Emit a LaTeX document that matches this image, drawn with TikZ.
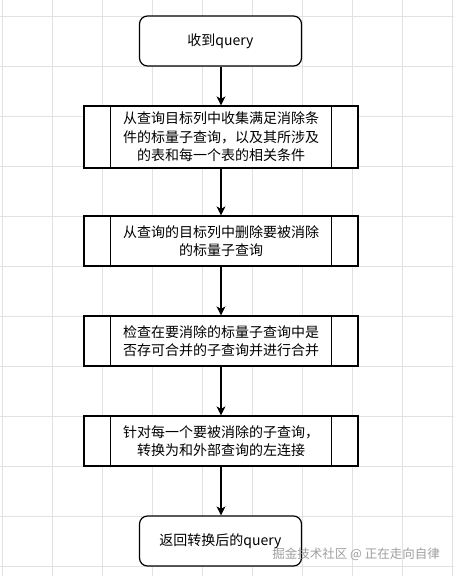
\documentclass[tikz,border=0pt]{standalone}
\usepackage{fontspec}
\newfontfamily\cjk{Noto Sans CJK SC}
\usetikzlibrary{arrows.meta}
\definecolor{gridc}{HTML}{E2E2E2}
\tikzset{
  term/.style={draw=black, line width=1.2pt, rounded corners=8pt, fill=white,
    minimum width=162pt, minimum height=50pt, font=\cjk\fontsize{14}{18}\selectfont, align=center, inner sep=0pt},
  proc/.style={draw=black, line width=1.2pt, fill=white,
    minimum width=274pt, font=\cjk\fontsize{14}{18.5}\selectfont, align=center, inner sep=0pt},
  flow/.style={line width=1.2pt, -{Stealth[length=9pt,width=9pt,inset=2.5pt]}},
}
\begin{document}
\begin{tikzpicture}[x=1pt,y=-1pt]
\useasboundingbox (0,0) rectangle (454,576);
\fill[white] (0,0) rectangle (454,576);
\foreach \gx in {2,52,...,452} \draw[gridc, line width=0.8pt] (\gx,0) -- (\gx,576);
\foreach \gy in {16,66,...,566} \draw[gridc, line width=0.8pt] (0,\gy) -- (454,\gy);

\node[term] (n1) at (220.5,41) {收到query};
\node[proc, minimum height=62pt] (n2) at (221,137) {从查询目标列中收集满足消除条\\件的标量子查询，以及其所涉及\\的表和每一个表的相关条件};
\node[proc, minimum height=50pt] (n3) at (221,241) {从查询的目标列中删除要被消除\\的标量子查询};
\node[proc, minimum height=50pt] (n4) at (221,341) {检查在要消除的标量子查询中是\\否存可合并的子查询并进行合并};
\node[proc, minimum height=50pt] (n5) at (221,441) {针对每一个要被消除的子查询，\\转换为和外部查询的左连接};
\node[term] (n6) at (220.5,541) {返回转换后的query};

\foreach \n in {n2,n3,n4,n5}{
  \draw[line width=1.2pt] ([xshift=27pt]\n.north west) -- ([xshift=27pt]\n.south west);
  \draw[line width=1.2pt] ([xshift=-27pt]\n.north east) -- ([xshift=-27pt]\n.south east);
}

\draw[flow] (n1.south -| n2.north) -- (n2.north);
\draw[flow] (n2) -- (n3);
\draw[flow] (n3) -- (n4);
\draw[flow] (n4) -- (n5);
\draw[flow] (n5.south) -- (n5.south |- n6.north);

\node[anchor=east, text=gray!75, font=\cjk\fontsize{12.5}{14}\selectfont, inner sep=0pt] (wm) at (440,554) {掘金技术社区 @ 正在走向自律};
\end{tikzpicture}
\end{document}
